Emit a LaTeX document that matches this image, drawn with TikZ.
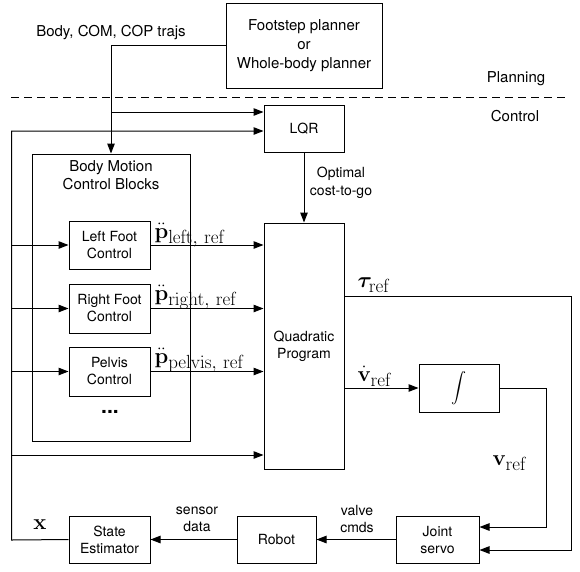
\RequirePackage{fix-cm}
\documentclass[tikz,border=0pt]{standalone}
\usepackage{graphicx}
\usepackage{bm}
\usepackage[no-math]{fontspec}
\setmainfont{TeX Gyre Heros}
\usetikzlibrary{arrows.meta}
\newcommand\msub[1]{\hbox{\fontsize{19}{22}\selectfont$\mathrm{#1}$}}
\begin{document}
\begin{tikzpicture}[x=1pt,y=-1pt,
  >={Triangle[length=10pt,width=7.5pt]}, line width=1pt,
  box/.style={draw, line width=1pt, align=center, inner sep=0pt, font=\fontsize{14}{17}\selectfont},
  lbl/.style={align=center, font=\fontsize{15}{18}\selectfont, inner sep=0pt},
  mlbl/.style={inner sep=0pt, font=\fontsize{22}{26}\selectfont}]
\useasboundingbox (0,0) rectangle (580,571);
% boxes
\node[box, minimum width=156pt, minimum height=85pt, font=\fontsize{15}{19}\selectfont] (fs) at (304,45.5) {Footstep planner\\or\\Whole-body planner};
\node[box, minimum width=80pt, minimum height=47pt] (lqr) at (304,128.5) {LQR};
\node[box, minimum width=158pt, minimum height=287pt] (bm) at (111,297.5) {};
\node[lbl] (bmt) at (111,175) {Body Motion\\Control Blocks};
\node[box, minimum width=81pt, minimum height=48pt] (lf) at (109.5,245) {Left Foot\\Control};
\node[box, minimum width=81pt, minimum height=49pt] (rf) at (109.5,308.5) {Right Foot\\Control};
\node[box, minimum width=81pt, minimum height=49pt] (pc) at (109.5,371.5) {Pelvis\\Control};
\node[inner sep=0pt, font=\fontsize{21}{24}\selectfont\bfseries] (dots) at (110,412) {...};
\node[box, minimum width=80pt, minimum height=246pt] (qp) at (304,346) {Quadratic\\Program};
\node[box, minimum width=80pt, minimum height=48pt] (int) at (459,388) {\scalebox{1.5}{$\displaystyle\int$}};
\node[box, minimum width=83pt, minimum height=47pt] (js) at (437.5,539.5) {Joint\\servo};
\node[box, minimum width=79pt, minimum height=47pt] (rb) at (276.5,539.5) {Robot};
\node[box, minimum width=81pt, minimum height=47pt] (se) at (109.5,539.5) {State\\Estimator};
% text labels
\node[lbl] (trajs) at (111,33) {Body, COM, COP trajs};
\node[lbl] (plan) at (516,79) {Planning};
\node[lbl] (ctrl) at (515,116) {Control};
\node[lbl, font=\fontsize{14}{18}\selectfont] (opt) at (341,183) {Optimal\\cost-to-go};
\node[lbl, font=\fontsize{14}{17}\selectfont] (sens) at (197,519) {sensor\\data};
\node[lbl, font=\fontsize{14}{17}\selectfont] (valv) at (357,519) {valve\\cmds};
\node[mlbl, anchor=base west] (pl) at (154,238) {$\ddot{\mathbf{p}}_{\msub{left,\,ref}}$};
\node[mlbl, anchor=base west] (pr) at (154,300) {$\ddot{\mathbf{p}}_{\msub{right,\,ref}}$};
\node[mlbl, anchor=base west] (pp) at (154,363) {$\ddot{\mathbf{p}}_{\msub{pelvis,\,ref}}$};
\node[mlbl, anchor=base west] (tau) at (357,287) {$\bm{\tau}_{\msub{ref}}$};
\node[mlbl, anchor=base west] (vd) at (357,381) {$\dot{\mathbf{v}}_{\msub{ref}}$};
\node[mlbl, anchor=base west] (vr) at (492,465) {$\mathbf{v}_{\msub{ref}}$};
\node[mlbl, anchor=base] (xs) at (40,529) {$\mathbf{x}$};
% coordinates
\coordinate (dL) at (11,97);
\coordinate (dR) at (568,97);
\coordinate (tj) at (111,112);
\coordinate (fbT) at (11.5,131);
\coordinate (fbB) at (11.5,540);
\coordinate (fq) at (11.5,455);
\coordinate (tau1) at (571,296);
\coordinate (tau2) at (571,550);
\coordinate (v1) at (546,388);
\coordinate (v2) at (546,527);
% connectors
\draw[dash pattern=on 8pt off 5pt] (dL) -- (dR);
\draw[->] (fs.west) -| (bm.north);
\draw[->] (tj) -- (tj -| lqr.west);
\draw[->] (se.west) -- (fbB) -- (fbT) -- (fbT -| lqr.west);
\draw[->] (fbT |- lf.west) -- (lf.west);
\draw[->] (fbT |- rf.west) -- (rf.west);
\draw[->] (fbT |- pc.west) -- (pc.west);
\draw[->] (fq) -- (fq -| qp.west);
\draw[->] (lf.east) -- (lf.east -| qp.west);
\draw[->] (rf.east) -- (rf.east -| qp.west);
\draw[->] (pc.east) -- (pc.east -| qp.west);
\draw[->] (lqr.south) -- (qp.north);
\draw[->] (qp.east |- tau1) -- (tau1) -- (tau2) -- (tau2 -| js.east);
\draw[->] (qp.east |- int.west) -- (int.west);
\draw[->] (int.east) -- (v1) -- (v2) -- (v2 -| js.east);
\draw[->] (js.west) -- (rb.east);
\draw[->] (rb.west) -- (se.east);
\end{tikzpicture}
\end{document}
